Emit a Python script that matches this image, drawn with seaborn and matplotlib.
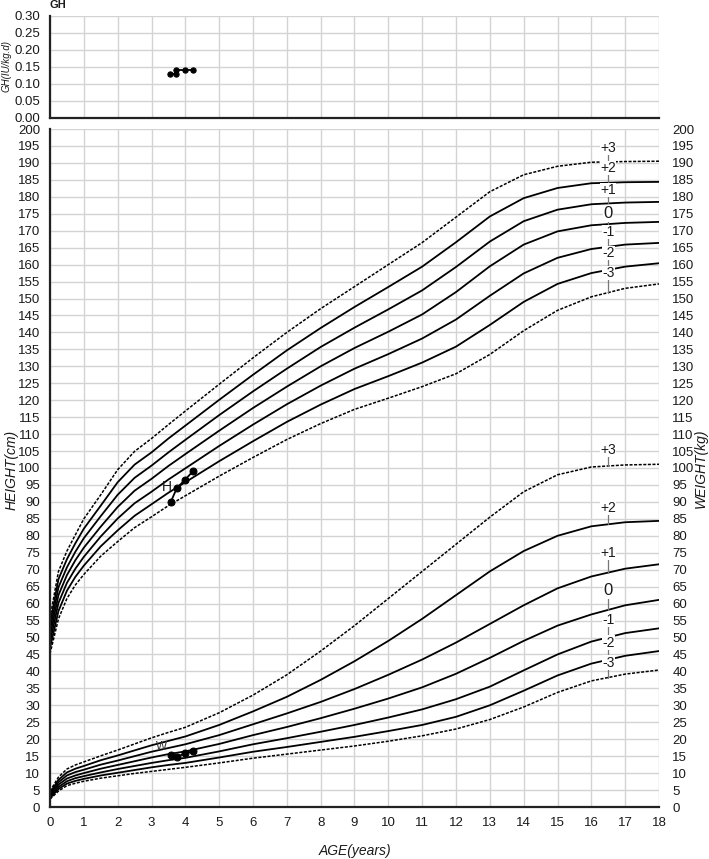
import numpy as np
import pandas as pd
import matplotlib
matplotlib.use("Agg")
import matplotlib.pyplot as plt
import seaborn as sns

# ---------------- data ----------------
ages = [0, 0.25, 0.5, 0.75, 1, 1.5, 2, 2.5, 3, 3.5, 4, 5, 6, 7, 8, 9, 10,
        11, 12, 13, 14, 15, 16, 17, 18]

height_m3 = [45.2, 55.5, 61.5, 65.5, 68.6, 74.0, 78.3, 82.4, 85.6, 88.9, 91.8, 97.6, 103.1, 108.4,
             113.1, 117.3, 120.6, 124.0, 127.8, 133.5, 140.5, 146.5, 150.5, 153.0, 154.3]
height_m2 = [46.9, 57.8, 63.8, 67.9, 71.2, 76.9, 81.6, 85.9, 89.3, 92.7, 95.8, 102.0, 107.9, 113.6,
             118.7, 123.3, 127.1, 131.1, 135.8, 142.2, 149.0, 154.3, 157.5, 159.4, 160.4]
height_m1 = [48.6, 60.2, 66.1, 70.3, 73.8, 79.8, 85.1, 89.6, 93.0, 96.6, 99.9, 106.5, 112.8, 118.8,
             124.3, 129.3, 133.6, 138.2, 143.8, 150.8, 157.4, 162.0, 164.6, 165.9, 166.4]
height_0 = [50.4, 62.5, 68.4, 72.8, 76.5, 82.7, 88.5, 93.3, 96.8, 100.6, 104.1, 111.0, 117.7, 124.0,
            130.0, 135.4, 140.2, 145.3, 151.9, 159.5, 165.9, 169.8, 171.6, 172.3, 172.6]
height_p1 = [52.2, 64.8, 70.7, 75.3, 79.3, 85.8, 92.1, 97.1, 100.7, 104.6, 108.3, 115.6, 122.6, 129.3,
             135.7, 141.4, 146.8, 152.4, 159.3, 166.8, 172.8, 176.2, 177.8, 178.3, 178.5]
height_p2 = [54.0, 67.2, 73.1, 77.8, 82.1, 88.9, 95.8, 101.0, 104.6, 108.7, 112.5, 120.1, 127.5, 134.7,
             141.3, 147.5, 153.4, 159.4, 166.6, 174.2, 179.6, 182.6, 184.0, 184.3, 184.4]
height_p3 = [55.8, 69.5, 75.5, 80.3, 85.0, 92.1, 99.5, 104.9, 108.7, 112.8, 116.8, 124.7, 132.5, 140.0,
             147.0, 153.5, 160.0, 166.5, 174.0, 181.5, 186.5, 189.0, 190.2, 190.4, 190.5]

weight_m3 = [2.3, 4.7, 6.3, 7.0, 7.6, 8.5, 9.2, 9.9, 10.5, 11.1, 11.7, 13.0, 14.4, 15.6,
             16.8, 18.0, 19.4, 21.0, 23.0, 25.8, 29.5, 33.8, 37.2, 39.2, 40.4]
weight_m2 = [2.6, 5.3, 6.9, 7.7, 8.3, 9.3, 10.1, 10.9, 11.7, 12.4, 13.0, 14.6, 16.3, 17.7,
             19.2, 20.7, 22.4, 24.2, 26.6, 30.0, 34.3, 38.8, 42.3, 44.6, 46.0]
weight_m1 = [2.9, 5.9, 7.6, 8.5, 9.1, 10.2, 11.2, 12.1, 13.0, 13.8, 14.5, 16.4, 18.5, 20.3,
             22.2, 24.2, 26.4, 28.8, 31.8, 35.5, 40.3, 45.0, 48.8, 51.3, 52.7]
weight_0 = [3.3, 6.6, 8.4, 9.3, 10.0, 11.3, 12.4, 13.5, 14.6, 15.6, 16.4, 18.6, 21.2, 23.6,
            26.2, 29.0, 32.0, 35.3, 39.3, 44.0, 49.0, 53.5, 56.8, 59.5, 61.1]
weight_p1 = [3.7, 7.3, 9.3, 10.3, 11.0, 12.5, 13.7, 15.0, 16.3, 17.4, 18.5, 21.2, 24.4, 27.6,
             31.0, 34.8, 39.0, 43.5, 48.5, 54.0, 59.5, 64.5, 68.0, 70.3, 71.6]
weight_p2 = [4.2, 8.0, 10.2, 11.3, 12.1, 13.8, 15.2, 16.7, 18.2, 19.5, 20.8, 24.2, 28.2, 32.5,
             37.5, 43.0, 49.0, 55.5, 62.5, 69.5, 75.5, 80.0, 82.8, 84.0, 84.4]
weight_p3 = [4.7, 8.8, 11.2, 12.4, 13.3, 15.1, 16.8, 18.6, 20.4, 22.0, 23.5, 27.8, 33.0, 39.0,
             46.0, 53.5, 61.5, 69.5, 77.5, 85.5, 93.0, 98.0, 100.3, 100.9, 101.1]

sd_names = ["+3", "+2", "+1", "0", "-1", "-2", "-3"]
height_label_y = [194.4, 188.5, 182.0, 175.0, 169.6, 163.4, 157.5]
weight_label_y = [105.3, 88.2, 74.9, 63.8, 55.2, 48.5, 42.6]

gh_age = [3.56, 3.72, 3.72, 3.99, 4.24]
gh_val = [0.13, 0.13, 0.14, 0.14, 0.14]
pt_h_age = [3.57, 3.75, 3.99, 4.23]
pt_height = [90.0, 94.1, 96.5, 99.1]
pt_w_age = [3.57, 3.75, 3.99, 4.24]
pt_weight = [15.3, 14.7, 15.9, 16.4]

x_ticks = list(range(0, 19))
y_ticks = list(range(0, 201, 5))
gh_ticks = [0.00, 0.05, 0.10, 0.15, 0.20, 0.25, 0.30]

# ---------------- style ----------------
sns.set_style("white")
plt.rcParams['font.family'] = ['Liberation Sans', 'DejaVu Sans']

W, H = 709, 859
fig = plt.figure(figsize=(W / 100, H / 100), dpi=100)
L, R = 50, 659
ax = fig.add_axes([L / W, 1 - 807 / H, (R - L) / W, (807 - 129) / H])
axg = fig.add_axes([L / W, 1 - 117.5 / H, (R - L) / W, (117.5 - 16) / H])

grid_c = "#d3d3d3"
tick_fs = 9.5
txt_c = "#1a1a1a"

# long table of reference curves
height_curves = [height_p3, height_p2, height_p1, height_0, height_m1, height_m2, height_m3]
weight_curves = [weight_p3, weight_p2, weight_p1, weight_0, weight_m1, weight_m2, weight_m3]
rows = []
for kind, curves in (("H", height_curves), ("W", weight_curves)):
    for name, vals in zip(sd_names, curves):
        for a, v in zip(ages, vals):
            rows.append({"age": a, "value": v, "curve": kind + name})
df = pd.DataFrame(rows)

for kind, curves in (("H", height_curves), ("W", weight_curves)):
    for name in sd_names:
        sub = df[df["curve"] == kind + name]
        dashed = name in ("+3", "-3")
        sns.lineplot(data=sub, x="age", y="value", ax=ax, color="black",
                     lw=1.1 if dashed else 1.3, linestyle=(0, (2, 1)) if dashed else "-",
                     sort=False, estimator=None)

# SD labels with small leader lines
lab_x = 16.5
for kind, curves, ly in (("H", height_curves, height_label_y), ("W", weight_curves, weight_label_y)):
    for name, vals, y in zip(sd_names, curves, ly):
        cv = np.interp(lab_x, ages, vals)
        ax.plot([lab_x, lab_x], [cv, y - 1.6], color="#777777", lw=0.9, zorder=2)
        ax.text(lab_x, y, name, ha="center", va="center", fontsize=12 if name == "0" else 10,
                color=txt_c, bbox=dict(facecolor="white", edgecolor="none", pad=0.2), zorder=3)

# patient data
sns.lineplot(x=pt_h_age, y=pt_height, ax=ax, color="black", lw=1.3, marker="o",
             markersize=5, markeredgecolor="black", sort=False, estimator=None)
sns.lineplot(x=pt_w_age, y=pt_weight, ax=ax, color="black", lw=1.3, marker="o",
             markersize=5, markeredgecolor="black", sort=False, estimator=None)
ax.text(3.6, 94.3, "H", ha="right", va="center", fontsize=10, color=txt_c)
ax.text(3.3, 17.6, "W", ha="center", va="center", fontsize=8.5, color="#333333")

ax.set_xlim(0, 18)
ax.set_ylim(0, 200)
ax.set_xticks(x_ticks)
ax.set_yticks(y_ticks)
ax.set_xticklabels([str(t) for t in x_ticks], fontsize=tick_fs, color=txt_c)
ax.set_yticklabels([str(t) for t in y_ticks], fontsize=tick_fs, color=txt_c)
ax.set_xlabel("")
ax.set_ylabel("")
ax.grid(True, color=grid_c, lw=1.0)
ax.set_axisbelow(True)
ax.tick_params(axis="y", length=0, pad=7)
ax.tick_params(axis="x", length=0, pad=7.5)
for s in ("top", "right"):
    ax.spines[s].set_visible(False)
for s in ("left", "bottom"):
    ax.spines[s].set_color("#222222")
    ax.spines[s].set_linewidth(1.6)

axr = ax.twinx()
axr.set_ylim(0, 200)
axr.set_yticks(y_ticks)
axr.set_yticklabels([str(t) for t in y_ticks], fontsize=tick_fs, color=txt_c)
axr.set_ylabel("")
axr.tick_params(length=0, pad=9.5)
for s in axr.spines.values():
    s.set_visible(False)

# axis titles
fig.text(355 / W, 1 - 851 / H, "AGE(years)", fontsize=10, style="italic",
         ha="center", va="center", color=txt_c)
fig.text(12 / W, 1 - 470 / H, "HEIGHT(cm)", fontsize=10, style="italic",
         ha="center", va="center", rotation=90, color=txt_c)
fig.text(701 / W, 1 - 468 / H, "WEIGHT(kg)", fontsize=10, style="italic",
         ha="center", va="center", rotation=90, color=txt_c)

# GH panel
sns.lineplot(x=gh_age, y=gh_val, ax=axg, color="black", lw=1.3, marker="o",
             markersize=3.8, markeredgecolor="black", sort=False, estimator=None)
axg.set_xlim(0, 18)
axg.set_ylim(0, 0.30)
axg.set_xticks(x_ticks)
axg.set_xticklabels([])
axg.set_yticks(gh_ticks)
axg.set_yticklabels([f"{t:.2f}" for t in gh_ticks], fontsize=tick_fs, color=txt_c)
axg.set_xlabel("")
axg.set_ylabel("")
axg.grid(True, color=grid_c, lw=1.0)
axg.set_axisbelow(True)
axg.tick_params(length=0, pad=7)
for s in ("top", "right"):
    axg.spines[s].set_visible(False)
for s in ("left", "bottom"):
    axg.spines[s].set_color("#222222")
    axg.spines[s].set_linewidth(1.6)
fig.text(7 / W, 1 - 66 / H, "GH(IU/kg.d)", fontsize=7, style="italic",
         ha="center", va="center", rotation=90, color=txt_c)
fig.text(50 / W, 1 - 5 / H, "GH", fontsize=8, fontweight="bold", ha="left", va="center",
         color=txt_c)

fig.savefig("out.png", dpi=100, facecolor="white")
